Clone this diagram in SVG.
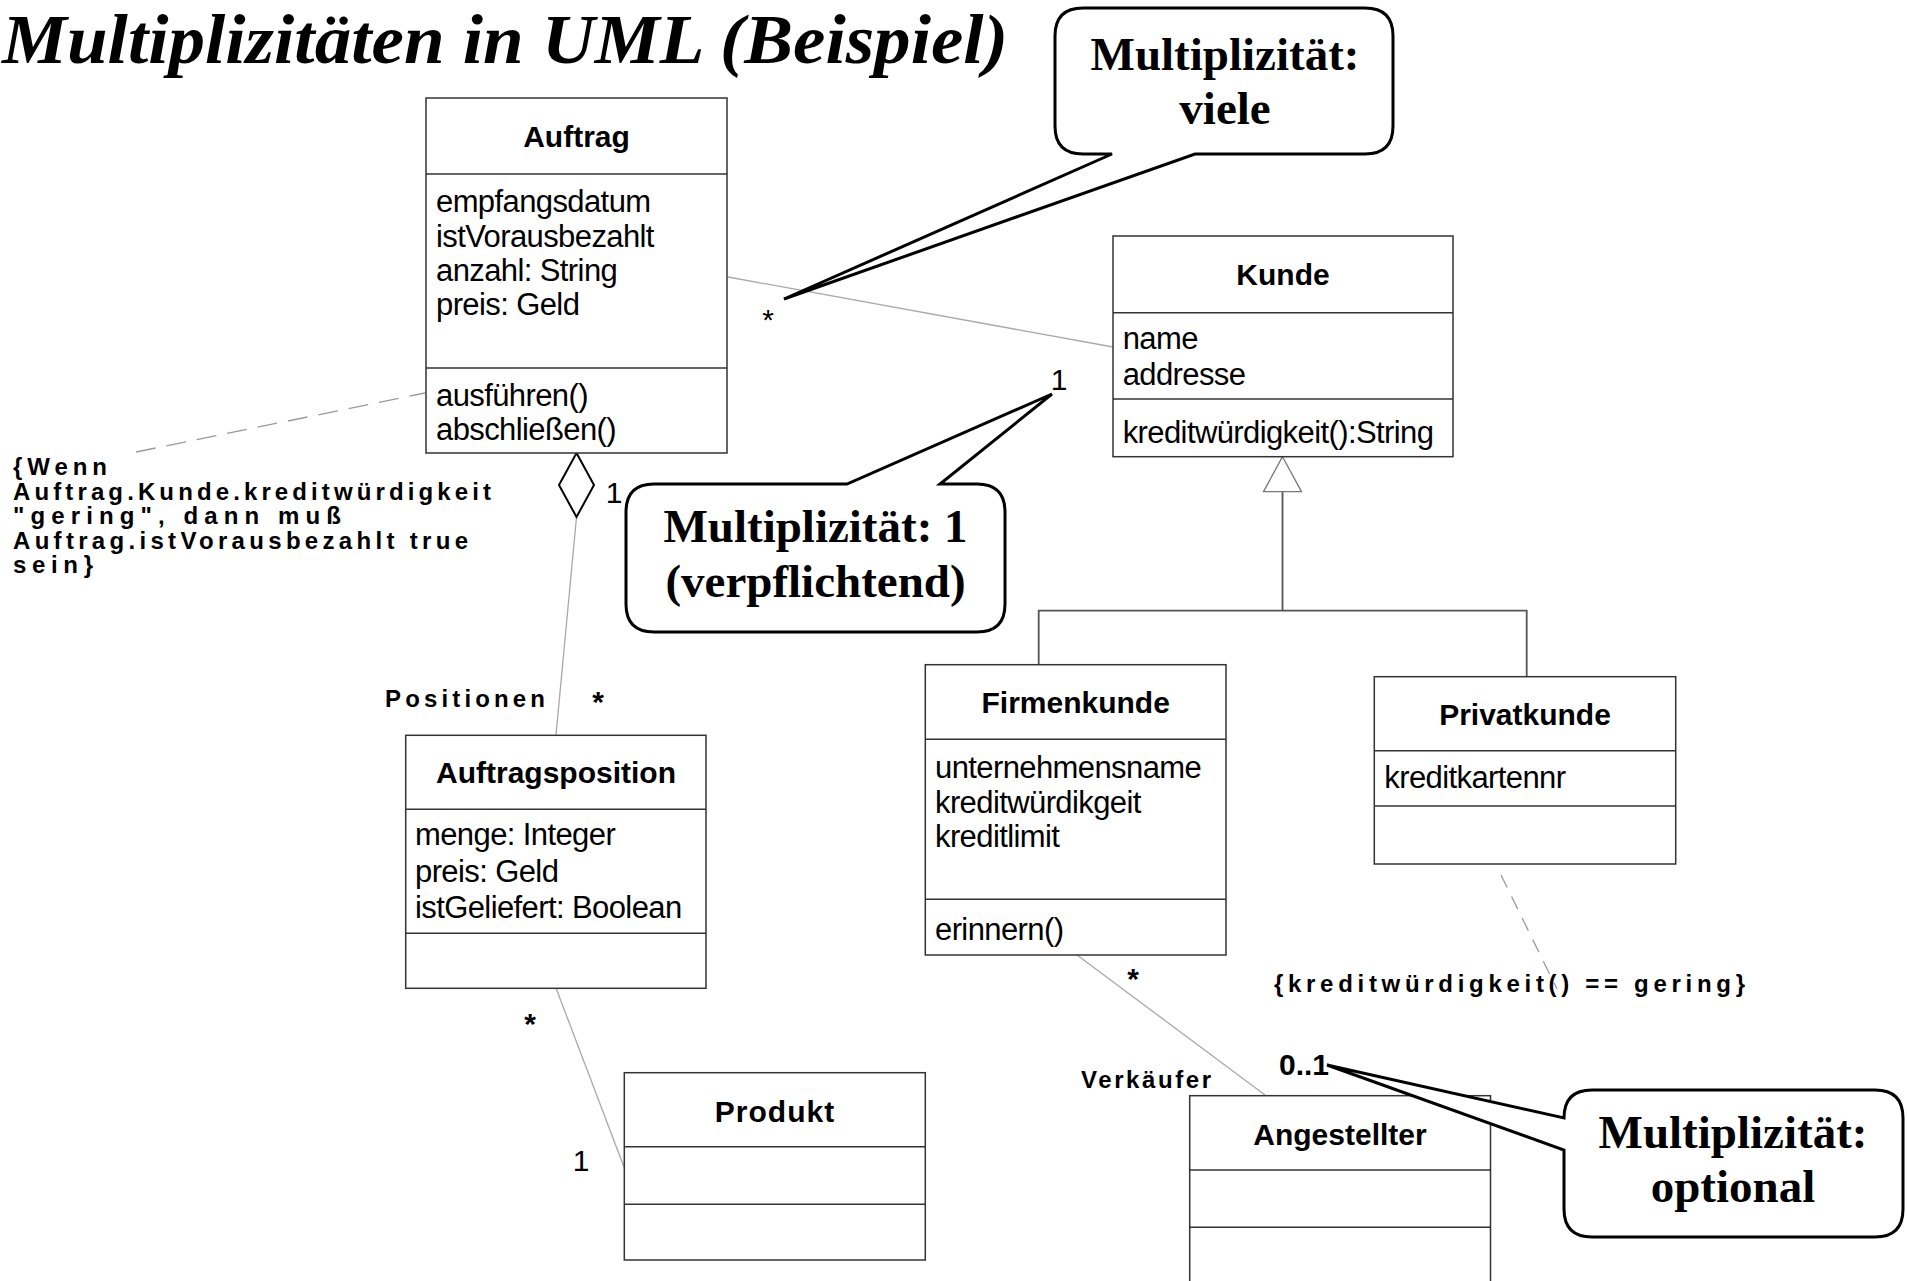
<svg xmlns="http://www.w3.org/2000/svg" width="1907" height="1281" viewBox="0 0 1907 1281">
  <style>
    .box { fill: #fff; stroke: #333; stroke-width: 1.5; }
    .sep { stroke: #333; stroke-width: 1.5; }
    .name { font-family: "Liberation Sans", Arial, sans-serif; font-weight: bold; font-size: 30px; text-anchor: middle; fill: #000; }
    .attr { font-family: "Liberation Sans", Arial, sans-serif; font-size: 31px; letter-spacing: -0.6px; fill: #000; }
    .assoc { stroke: #a8a8a8; stroke-width: 1.3; fill: none; }
    .gen { stroke: #555; stroke-width: 1.8; fill: none; }
    .dash { stroke: #9a9a9a; stroke-width: 1.3; fill: none; }
    .mult { font-family: "Liberation Sans", Arial, sans-serif; font-size: 30px; fill: #000; }
    .role { font-family: "Liberation Sans", Arial, sans-serif; font-weight: bold; font-size: 24px; fill: #000; }
    .callout { fill: #fff; stroke: #000; stroke-width: 3; stroke-linejoin: miter; }
    .ctext { font-family: "Liberation Serif", "Times New Roman", serif; font-weight: bold; font-size: 47px; text-anchor: middle; fill: #000; }
  </style>

  <!-- heading -->
  <text x="2" y="63" font-family="Liberation Serif, Times New Roman, serif" font-weight="bold" font-style="italic" font-size="70" textLength="1006" lengthAdjust="spacingAndGlyphs">Multiplizitäten in UML (Beispiel)</text>

  <!-- connectors -->
  <g id="connectors">
    <!-- Auftrag * — 1 Kunde -->
    <line class="assoc" x1="728" y1="277" x2="1113" y2="347"/>
    <!-- Auftrag ◇ — Auftragsposition -->
    <line class="assoc" x1="576.5" y1="517" x2="556" y2="735"/>
    <polygon points="576.5,453 594,485 576.5,517 559,485" fill="#fff" stroke="#000" stroke-width="2"/>
    <!-- Auftragsposition * — 1 Produkt -->
    <line class="assoc" x1="556" y1="988" x2="624" y2="1167"/>
    <!-- Firmenkunde * — 0..1 Angestellter -->
    <line class="assoc" x1="1077" y1="955" x2="1265" y2="1095"/>
    <!-- generalisation Kunde <- Firmenkunde / Privatkunde -->
    <polyline class="gen" points="1038.7,665 1038.7,610.7 1526.7,610.7 1526.7,677"/>
    <line class="gen" x1="1282.5" y1="610.7" x2="1282.5" y2="491.7"/>
    <polygon points="1282.5,456.7 1301.5,491.7 1263.5,491.7" fill="#fff" stroke="#777" stroke-width="1.3"/>
    <!-- constraint anchors -->
    <line class="dash" x1="136" y1="452" x2="425" y2="393" stroke-dasharray="20 11"/>
    <line class="dash" x1="1501" y1="875" x2="1557" y2="989" stroke-dasharray="14 10"/>
  </g>

  <!-- multiplicities and role names -->
  <g id="labels">
    <text class="mult" x="768" y="330" text-anchor="middle">*</text>
    <text class="mult" x="1059" y="390" text-anchor="middle" font-size="32">1</text>
    <text class="mult" x="614" y="503" text-anchor="middle" font-size="27">1</text>
    <text class="role" x="385" y="707" textLength="160" lengthAdjust="spacing">Positionen</text>
    <text class="mult" x="598" y="712" text-anchor="middle" font-weight="bold" font-size="28">*</text>
    <text class="mult" x="530" y="1034" text-anchor="middle" font-weight="bold" font-size="28">*</text>
    <text class="mult" x="581" y="1171" text-anchor="middle" font-size="32">1</text>
    <text class="mult" x="1133" y="989" text-anchor="middle" font-weight="bold" font-size="28">*</text>
    <text class="role" x="1081" y="1088" textLength="130" lengthAdjust="spacing">Verkäufer</text>
    <text class="mult" x="1279" y="1075" font-weight="bold" font-size="28">0..1</text>
  </g>

  <!-- constraints -->
  <g id="constraint-auftrag" class="role">
    <text x="13" y="475" textLength="94" lengthAdjust="spacing">{Wenn</text>
    <text x="13" y="499.5" textLength="478" lengthAdjust="spacing">Auftrag.Kunde.kreditwürdigkeit</text>
    <text x="13" y="524" textLength="328" lengthAdjust="spacing">"gering", dann muß</text>
    <text x="13" y="548.5" textLength="455" lengthAdjust="spacing">Auftrag.istVorausbezahlt true</text>
    <text x="13" y="573" textLength="80" lengthAdjust="spacing">sein}</text>
  </g>
  <g id="constraint-privatkunde" class="role">
    <text x="1274" y="992" textLength="471" lengthAdjust="spacing">{kreditwürdigkeit() == gering}</text>
  </g>

  <!-- classes -->
  <g id="auftrag">
    <rect class="box" x="426" y="98" width="301" height="355"/>
    <line class="sep" x1="426" y1="174" x2="727" y2="174"/>
    <line class="sep" x1="426" y1="368" x2="727" y2="368"/>
    <text class="name" x="576.5" y="146.5">Auftrag</text>
    <text class="attr" x="436" y="212">empfangsdatum</text>
    <text class="attr" x="436" y="246.5">istVorausbezahlt</text>
    <text class="attr" x="436" y="281">anzahl: String</text>
    <text class="attr" x="436" y="315">preis: Geld</text>
    <text class="attr" x="436" y="406">ausführen()</text>
    <text class="attr" x="436" y="440">abschließen()</text>
  </g>

  <g id="kunde">
    <rect class="box" x="1113" y="236" width="340" height="220.7"/>
    <line class="sep" x1="1113" y1="312.7" x2="1453" y2="312.7"/>
    <line class="sep" x1="1113" y1="399" x2="1453" y2="399"/>
    <text class="name" x="1283" y="285">Kunde</text>
    <text class="attr" x="1122.7" y="349">name</text>
    <text class="attr" x="1122.7" y="385">addresse</text>
    <text class="attr" x="1122.7" y="443">kreditwürdigkeit():String</text>
  </g>

  <g id="firmenkunde">
    <rect class="box" x="925.3" y="664.7" width="300.7" height="290.3"/>
    <line class="sep" x1="925.3" y1="739.3" x2="1226" y2="739.3"/>
    <line class="sep" x1="925.3" y1="899.3" x2="1226" y2="899.3"/>
    <text class="name" x="1075.7" y="713">Firmenkunde</text>
    <text class="attr" x="935" y="778">unternehmensname</text>
    <text class="attr" x="935" y="813">kreditwürdikgeit</text>
    <text class="attr" x="935" y="847">kreditlimit</text>
    <text class="attr" x="935" y="940">erinnern()</text>
  </g>

  <g id="privatkunde">
    <rect class="box" x="1374.3" y="676.7" width="301.4" height="187.3"/>
    <line class="sep" x1="1374.3" y1="750.7" x2="1675.7" y2="750.7"/>
    <line class="sep" x1="1374.3" y1="806" x2="1675.7" y2="806"/>
    <text class="name" x="1525" y="724.5">Privatkunde</text>
    <text class="attr" x="1384.3" y="788.3">kreditkartennr</text>
  </g>

  <g id="auftragsposition">
    <rect class="box" x="405.7" y="735.3" width="300.3" height="253"/>
    <line class="sep" x1="405.7" y1="809.3" x2="706" y2="809.3"/>
    <line class="sep" x1="405.7" y1="933.3" x2="706" y2="933.3"/>
    <text class="name" x="556" y="782.5">Auftragsposition</text>
    <text class="attr" x="415" y="845">menge: Integer</text>
    <text class="attr" x="415" y="881.7">preis: Geld</text>
    <text class="attr" x="415" y="918.3">istGeliefert: Boolean</text>
  </g>

  <g id="produkt">
    <rect class="box" x="624.3" y="1072.7" width="301" height="187.3"/>
    <line class="sep" x1="624.3" y1="1146.7" x2="925.3" y2="1146.7"/>
    <line class="sep" x1="624.3" y1="1204.3" x2="925.3" y2="1204.3"/>
    <text class="name" x="775" y="1122" letter-spacing="1">Produkt</text>
  </g>

  <g id="angestellter">
    <rect class="box" x="1189.7" y="1095.7" width="300.8" height="200"/>
    <line class="sep" x1="1189.7" y1="1170" x2="1490.5" y2="1170"/>
    <line class="sep" x1="1189.7" y1="1227.3" x2="1490.5" y2="1227.3"/>
    <text class="name" x="1340" y="1144.5" font-size="29">Angestellter</text>
  </g>

  <!-- speech-bubble annotations -->
  <g id="callout-viele">
    <path class="callout" d="M 1083,8 H 1365 Q 1393,8 1393,36 V 126 Q 1393,154 1365,154 H 1195 L 784,299 L 1112,154 H 1083 Q 1055,154 1055,126 V 36 Q 1055,8 1083,8 Z"/>
    <text class="ctext" x="1225" y="70">Multiplizität:</text>
    <text class="ctext" x="1225" y="124">viele</text>
  </g>

  <g id="callout-eins">
    <path class="callout" d="M 654,484 H 847 L 1052,394 L 940,484 H 977 Q 1005,484 1005,512 V 604 Q 1005,632 977,632 H 654 Q 626,632 626,604 V 512 Q 626,484 654,484 Z"/>
    <text class="ctext" x="815.5" y="542">Multiplizität: 1</text>
    <text class="ctext" x="815.5" y="597">(verpflichtend)</text>
  </g>

  <g id="callout-optional">
    <path class="callout" d="M 1592,1090 H 1875 Q 1903,1090 1903,1118 V 1209 Q 1903,1237 1875,1237 H 1592 Q 1564,1237 1564,1209 V 1150 L 1327,1065 L 1564,1118 Q 1564,1090 1592,1090 Z"/>
    <text class="ctext" x="1733" y="1148">Multiplizität:</text>
    <text class="ctext" x="1733" y="1202">optional</text>
  </g>
</svg>
